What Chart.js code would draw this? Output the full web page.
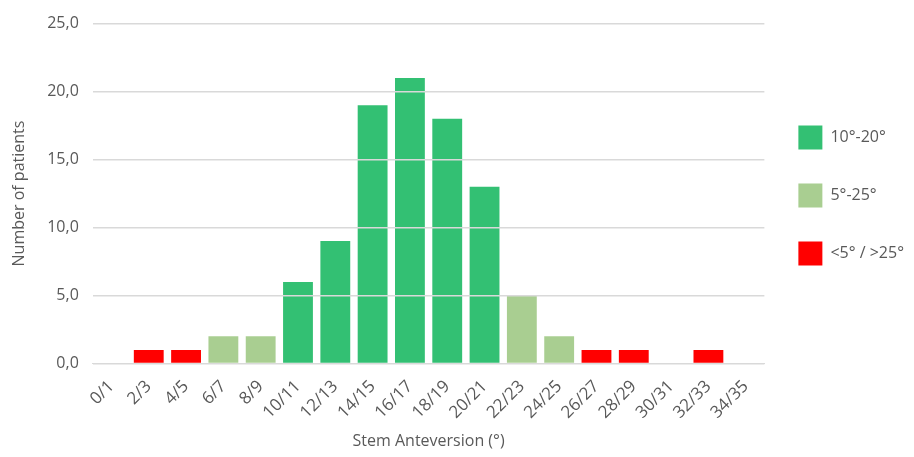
<!DOCTYPE html>
<html>
<head>
<meta charset="utf-8">
<script src="https://cdn.jsdelivr.net/npm/chart.js@4"></script>
<style>
  html, body { margin: 0; padding: 0; background: #fff; }
  #wrap { width: 914px; height: 457px; }
</style>
</head>
<body>
<div id="wrap"><canvas id="histChart"></canvas></div>
<script>
const categories = ["0/1", "2/3", "4/5", "6/7", "8/9", "10/11", "12/13", "14/15", "16/17", "18/19",
    "20/21", "22/23", "24/25", "26/27", "28/29", "30/31", "32/33", "34/35"];
const patients = [0, 1, 1, 2, 2, 6, 9, 19, 21, 18, 13, 5, 2, 1, 1, 0, 1, 0];
// which range each bin belongs to (index into groupLabels)
const binGroup = [2, 2, 2, 1, 1, 0, 0, 0, 0, 0, 0, 1, 1, 2, 2, 2, 2, 2];
const groupLabels = ["10°-20°", "5°-25°", "<5° / >25°"];
const groupColors = ["rgba(0, 176, 80, 0.8)", "rgba(112, 173, 71, 0.6)", "#ff0000"];
const yTicks = [0, 5, 10, 15, 20, 25];

const textColor = "#595959";
const fontFamily = "'Open Sans', sans-serif";

const datasets = groupLabels.map((label, g) => ({
    label: label,
    data: patients.map((v, i) => (binGroup[i] === g && v > 0 ? v : null)),
    backgroundColor: groupColors[g],
    borderWidth: 0,
    barPercentage: 0.8,
    categoryPercentage: 1.0,
}));

new Chart(document.getElementById("histChart").getContext("2d"), {
    type: "bar",
    data: { labels: categories, datasets: datasets },
    options: {
        responsive: true,
        maintainAspectRatio: false,
        animation: false,
        layout: { padding: { left: 6, right: 0, top: 8, bottom: 2 } },
        plugins: {
            tooltip: { enabled: false },
            legend: {
                position: "right",
                align: "start",
                // empty title only used to push the items down
                title: { display: true, text: "", padding: { top: 69, bottom: 0 } },
                labels: {
                    boxWidth: 24,
                    boxHeight: 24,
                    padding: 34,
                    color: textColor,
                    font: { family: fontFamily, size: 16 },
                },
            },
        },
        scales: {
            x: {
                stacked: true,
                grid: { display: false },
                border: { color: "#d9d9d9" },
                ticks: {
                    color: textColor,
                    padding: 5,
                    font: { family: fontFamily, size: 17 },
                    maxRotation: 45,
                    minRotation: 45,
                    autoSkip: false,
                },
                title: {
                    display: true,
                    text: "Stem Anteversion (°)",
                    color: textColor,
                    font: { family: fontFamily, size: 16 },
                },
            },
            y: {
                stacked: true,
                min: 0,
                max: 25,
                afterBuildTicks: axis => { axis.ticks = yTicks.map(v => ({ value: v })); },
                grid: { color: "#d9d9d9", lineWidth: 1.5, drawTicks: false, z: 1 },
                border: { display: false },
                ticks: {
                    color: textColor,
                    padding: 14,
                    font: { family: fontFamily, size: 16 },
                    callback: v => v.toFixed(1).replace(".", ","),
                },
                title: {
                    display: true,
                    text: "Number of patients",
                    color: textColor,
                    font: { family: fontFamily, size: 16 },
                },
            },
        },
    },
});
</script>
</body>
</html>
